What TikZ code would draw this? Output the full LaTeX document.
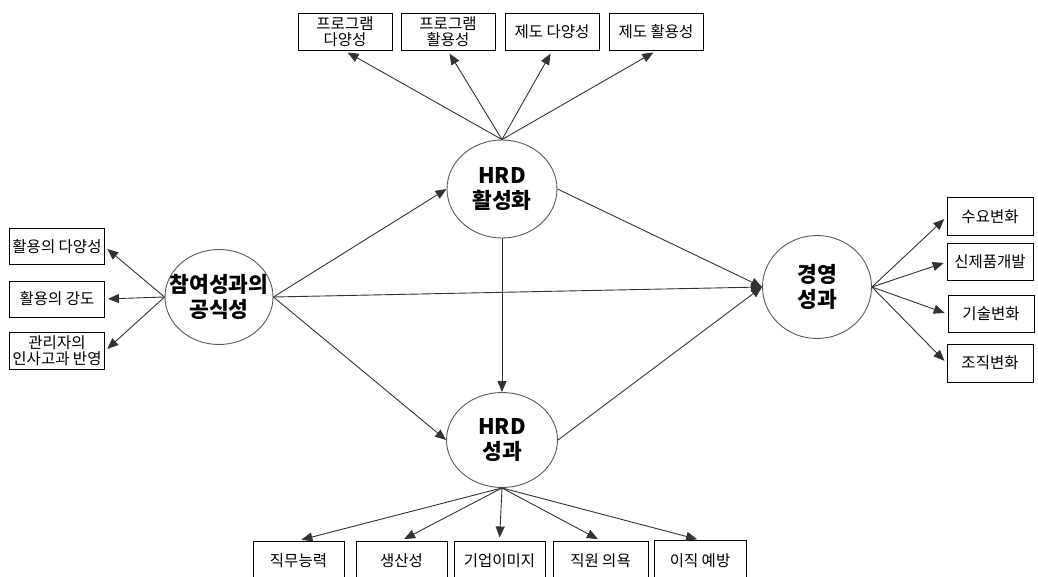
\documentclass[tikz,border=0pt]{standalone}
\usepackage{fontspec}
\newfontfamily\kor{Noto Sans CJK KR}
\usetikzlibrary{shapes.geometric, positioning, arrows.meta}
\tikzset{
    factor/.style={ellipse, draw=black!65, line width=0.9pt, inner sep=0pt},
    factortext/.style={align=center, inner sep=0pt, font=\kor\bfseries\fontsize{21.5}{25}\selectfont},
    indicator/.style={rectangle, draw, line width=1pt, minimum width=94pt, minimum height=37pt,
        inner sep=0pt, align=center, font=\kor\fontsize{15.5}{16}\selectfont},
    link/.style={color=black!80, line width=0.9pt, -{Triangle[length=11pt, width=9pt]}},
    shorten >= 3pt
}

\begin{document}
\begin{tikzpicture}[x=1pt, y=-1pt]
                    \useasboundingbox (0,0) rectangle (1038,577);
                    \clip (0,0) rectangle (1038,577);

                    % latent factors
                    \node[factor, minimum width=110pt, minimum height=98pt]  (act)  at (502,189)  [label={[factortext]center:{HRD\\활성화}}]       {};
                    \node[factor, minimum width=111pt, minimum height=95pt]  (res)  at (502,440)  [label={[factortext]center:{HRD\\성과}}]         {};
                    \node[factor, minimum width=108pt, minimum height=95pt]  (form) at (219,297)  [label={[factortext]center:{참여성과의\\공식성}}] {};
                    \node[factor, minimum width=109pt, minimum height=103pt] (perf) at (817,287)  [label={[factortext]center:{경영\\성과}}]         {};

                    % indicators of HRD activation
                    \node[indicator]  (t1)  at (345,32)               {프로그램\\다양성};
                    \node[indicator]  (t2)  [right=8pt of t1]         {프로그램\\활용성};
                    \node[indicator]  (t3)  [right=9pt of t2]         {제도 다양성};
                    \node[indicator]  (t4)  [right=9pt of t3]         {제도 활용성};

                    % indicators of formality
                    \node[indicator, minimum width=95pt, minimum height=36pt]  (l1)  at (57,247)  {활용의 다양성};
                    \node[indicator, minimum width=95pt, minimum height=36pt]  (l2)  at (57,299)  {활용의 강도};
                    \node[indicator, minimum width=95pt]                       (l3)  at (57,351)  {관리자의\\인사고과 반영};

                    % indicators of management performance
                    \node[indicator, minimum width=86pt, minimum height=38pt]  (r1)  at (990,217)  {수요변화};
                    \node[indicator, minimum width=86pt]                       (r2)  at (990,262)  {신제품개발};
                    \node[indicator, minimum width=86pt]                       (r3)  at (991,314)  {기술변화};
                    \node[indicator, minimum width=86pt, minimum height=38pt]  (r4)  at (990,363)  {조직변화};

                    % indicators of HRD results
                    \node[indicator, minimum width=91pt, minimum height=40pt]  (b1)  at (298.5,561)   {직무능력};
                    \node[indicator, minimum width=91pt, minimum height=40pt]  (b2)  [right=11pt of b1]  {생산성};
                    \node[indicator, minimum width=91pt, minimum height=40pt]  (b3)  [right=6pt of b2]   {기업이미지};
                    \node[indicator, minimum width=95pt, minimum height=40pt]  (b4)  [right=7pt of b3]   {직원 의욕};
                    \node[indicator, minimum width=92pt, minimum height=41pt]  (b5)  [right=5pt of b4]   {이직 예방};

                    \path[link]  (act.north)  edge (t1.south)
                                              edge (t2.south)
                                              edge (t3.south)
                                              edge (t4.south)
                                 (form.west)  edge (l1.east)
                                              edge (l2.east)
                                              edge (l3.east)
                                 (perf.east)  edge (r1.west)
                                              edge (r2.west)
                                              edge (r3.west)
                                              edge (r4.west)
                                 (res.south)  edge (b1.north)
                                              edge (b2.north)
                                              edge (b3.north)
                                              edge (b4.north)
                                              edge (b5.north);

                    \path[link, shorten >= 0pt]
                                 (form.east)  edge (act.west)
                                              edge (res.west)
                                              edge (perf.west)
                                 (act.east)   edge (perf.west)
                                 (act.south)  edge (res.north)
                                 (res.east)   edge (perf.west);
                \end{tikzpicture}
\end{document}
